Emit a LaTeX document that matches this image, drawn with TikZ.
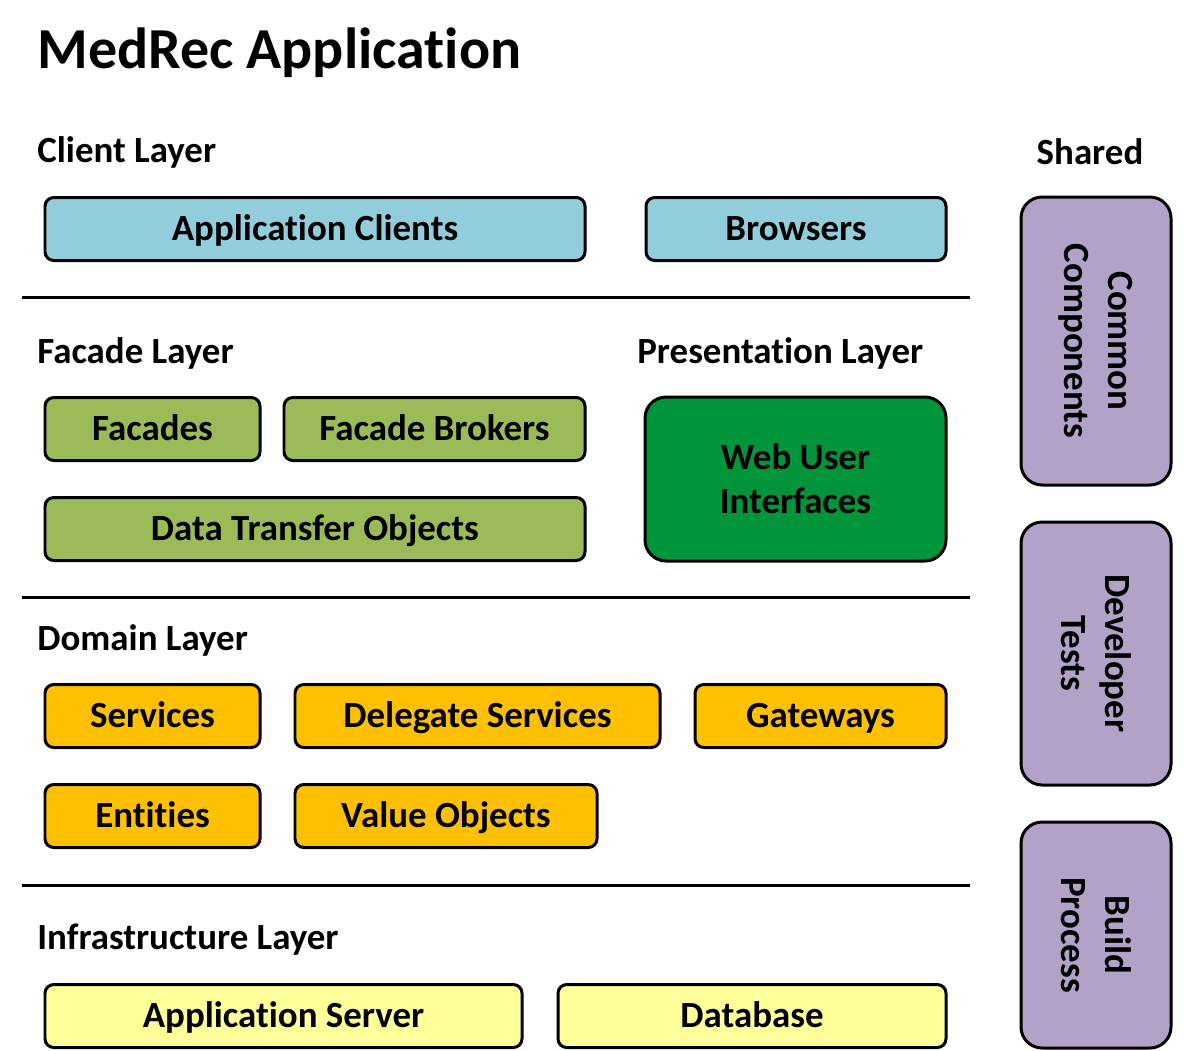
\documentclass[tikz,border=0pt]{standalone}
\usepackage{fontspec}
\setmainfont{Carlito}[Ligatures=NoCommon]
\usetikzlibrary{positioning}

\definecolor{clientblue}{HTML}{92CDDC}
\definecolor{facadegreen}{HTML}{9BBB59}
\definecolor{webgreen}{HTML}{00953A}
\definecolor{domainorange}{HTML}{FFC000}
\definecolor{infrayellow}{HTML}{FFFF99}
\definecolor{sharedpurple}{HTML}{B2A2C7}

\tikzset{
  shape base/.style={draw=black, line width=1.7pt, rounded corners=5pt, inner sep=0pt,
    minimum height=1.26cm, font=\fontsize{21}{25}\selectfont\bfseries},
  box/.style={shape base, text height=18pt, text depth=4.5pt},
  layerlabel/.style={anchor=west, inner sep=0pt, font=\fontsize{21}{25}\selectfont\bfseries},
  sharedbox/.style={shape base, rounded corners=12pt, minimum width=3cm},
  sharedtext/.style={rotate=-90, align=center, inner sep=0pt, font=\fontsize{21}{25}\selectfont\bfseries},
  separator/.style={line width=1.7pt},
}

\begin{document}
\begin{tikzpicture}[x=0.2mm,y=-0.2mm]
\useasboundingbox (0,0) rectangle (1197,1050);

% title
\node[anchor=west, inner sep=0pt, font=\fontsize{33}{38}\selectfont\bfseries] (title) at (37,53) {MedRec Application};

% client layer
\node[layerlabel] (clientlbl) at (37,152) {Client Layer};
\node[box, fill=clientblue, minimum width=10.8cm] (appclients) at (315,229) {Application Clients};
\node[box, fill=clientblue, minimum width=6cm] (browsers) at (796,229) {Browsers};
\draw[separator] (22,297) -- (970,297);

% facade and presentation layers
\node[layerlabel] (facadelbl) at (37,353) {Facade Layer};
\node[layerlabel] (presentlbl) at (637,353) {Presentation Layer};
\node[box, fill=facadegreen, minimum width=4.3cm] (facades) at (152.5,429) {Facades};
\node[box, fill=facadegreen, minimum width=6.02cm] (brokers) at (434.5,429) {Facade Brokers};
\node[box, fill=facadegreen, minimum width=10.8cm] (dto) at (315,529) {Data Transfer Objects};
\node[shape base, fill=webgreen, rounded corners=12pt, align=center, minimum width=6.02cm, minimum height=3.28cm] (webui) at (795.5,479) {Web User\\Interfaces};
\draw[separator] (22,597) -- (970,597);

% domain layer
\node[layerlabel] (domainlbl) at (37,640) {Domain Layer};
\node[box, fill=domainorange, minimum width=4.3cm] (services) at (152.5,716) {Services};
\node[box, fill=domainorange, minimum width=7.3cm] (delegate) at (477.5,716) {Delegate Services};
\node[box, fill=domainorange, minimum width=5.02cm] (gateways) at (820.5,716) {Gateways};
\node[box, fill=domainorange, minimum width=4.3cm] (entities) at (152.5,816) {Entities};
\node[box, fill=domainorange, minimum width=6.04cm] (valueobj) at (446,816) {Value Objects};
\draw[separator] (22,885) -- (970,885);

% infrastructure layer
\node[layerlabel] (infralbl) at (37,940) {Infrastructure Layer};
\node[box, fill=infrayellow, minimum width=9.54cm] (appserver) at (283.5,1016) {Application Server};
\node[box, fill=infrayellow, minimum width=7.76cm] (database) at (752,1016) {Database};

% shared
\node[inner sep=0pt, font=\fontsize{21}{25}\selectfont\bfseries] (sharedlbl) at (1090,152) {Shared};
\node[sharedbox, fill=sharedpurple, minimum height=5.76cm] (common) at (1096,341) {};
\node[sharedtext] at (common.center) {Common\\Components};
\node[sharedbox, fill=sharedpurple, minimum height=5.26cm] (devtests) at (1096,653.5) {};
\node[sharedtext] at (devtests.center) {Developer\\Tests};
\node[sharedbox, fill=sharedpurple, minimum height=4.52cm] (build) at (1096,935) {};
\node[sharedtext] at (build.center) {Build\\Process};
\end{tikzpicture}
\end{document}
